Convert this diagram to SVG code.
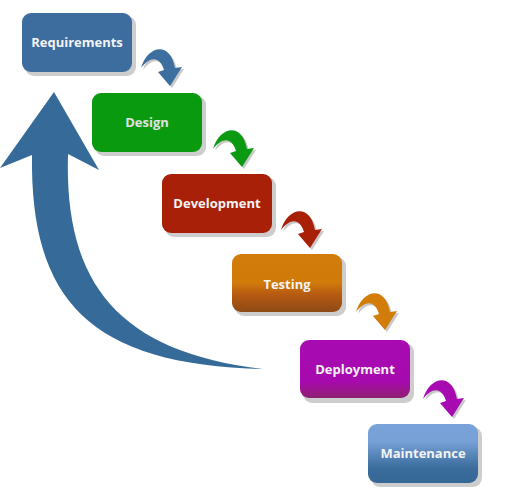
<svg xmlns="http://www.w3.org/2000/svg" width="505" height="498" viewBox="0 0 505 498">
  <style>
    .shadow { fill: #cdcdcd; }
    .label { font-family: "Open Sans", "Noto Sans", "DejaVu Sans", sans-serif; font-weight: bold; font-size: 13px; fill: #f4f4f4; text-anchor: middle; }
  </style>
  <defs>
    <linearGradient id="gTest" x1="0" y1="0" x2="0" y2="1">
      <stop offset="0" stop-color="#d27c0a"/>
      <stop offset="0.5" stop-color="#d07a0a"/>
      <stop offset="0.7" stop-color="#b65a12"/>
      <stop offset="1" stop-color="#8e4a16"/>
    </linearGradient>
    <linearGradient id="gDeploy" x1="0" y1="0" x2="0" y2="1">
      <stop offset="0" stop-color="#a80ab2"/>
      <stop offset="0.72" stop-color="#a60aae"/>
      <stop offset="1" stop-color="#8e2070"/>
    </linearGradient>
    <linearGradient id="gMaint" x1="0" y1="0" x2="0" y2="1">
      <stop offset="0" stop-color="#7aa2da"/>
      <stop offset="0.3" stop-color="#76a0d6"/>
      <stop offset="0.75" stop-color="#3a6c9c"/>
      <stop offset="1" stop-color="#356896"/>
    </linearGradient>
    <path id="curl" d="M141,68 C147,46 170,40 175,68 L182,67 L170,86 L158,72 L164,70 C160,56 150,56 141,68 Z"/>
  </defs>

  <g id="connectors">
    <path id="feedback" fill="#366a99" d="M54,92 L99,170 L68,154 C64,285 120,352 263,369 C90,365 30,300 32,155 L0,168 Z"/>
    <use href="#curl" fill="#c8c8c8" transform="translate(2,2)"/>
    <use href="#curl" fill="#3c6e9f"/>
    <use href="#curl" fill="#c8c8c8" transform="translate(74,83)"/>
    <use href="#curl" fill="#0c9a12" transform="translate(72,81)"/>
    <use href="#curl" fill="#c8c8c8" transform="translate(142,164)"/>
    <use href="#curl" fill="#a82008" transform="translate(140,162)"/>
    <use href="#curl" fill="#c8c8c8" transform="translate(217,246)"/>
    <use href="#curl" fill="#d27c0a" transform="translate(215,244)"/>
    <use href="#curl" fill="#c8c8c8" transform="translate(284,333)"/>
    <use href="#curl" fill="#a80ab2" transform="translate(282,331)"/>
  </g>

  <g id="requirements">
    <rect class="shadow" x="25" y="16" width="111" height="60" rx="9"/>
    <rect x="22" y="13" width="110" height="59" rx="9" fill="#3c6d9e"/>
    <text class="label" x="77" y="47">Requirements</text>
  </g>
  <g id="design">
    <rect class="shadow" x="95" y="96" width="111" height="60" rx="9"/>
    <rect x="92" y="93" width="110" height="59" rx="9" fill="#0a9a10"/>
    <text class="label" x="147" y="127" style="fill:#e2e2e2">Design</text>
  </g>
  <g id="development">
    <rect class="shadow" x="165" y="177" width="111" height="60" rx="9"/>
    <rect x="162" y="174" width="110" height="59" rx="9" fill="#a82008"/>
    <text class="label" x="217" y="208">Development</text>
  </g>
  <g id="testing">
    <rect class="shadow" x="235" y="257" width="111" height="59" rx="9"/>
    <rect x="232" y="254" width="110" height="58" rx="9" fill="url(#gTest)"/>
    <text class="label" x="287" y="289">Testing</text>
  </g>
  <g id="deployment">
    <rect class="shadow" x="303" y="343" width="111" height="60" rx="9"/>
    <rect x="300" y="340" width="110" height="58" rx="9" fill="url(#gDeploy)"/>
    <text class="label" x="355" y="374">Deployment</text>
  </g>
  <g id="maintenance">
    <rect class="shadow" x="371" y="427" width="111" height="60" rx="9"/>
    <rect x="368" y="424" width="110" height="59" rx="9" fill="url(#gMaint)"/>
    <text class="label" x="423" y="458">Maintenance</text>
  </g>
</svg>
